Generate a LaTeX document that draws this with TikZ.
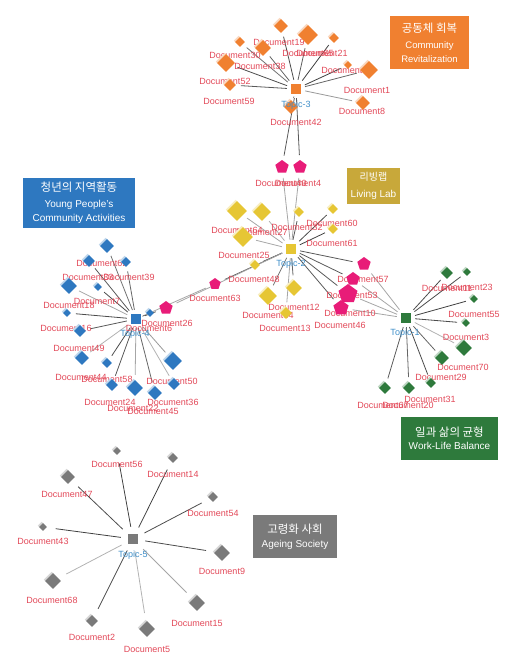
\documentclass[tikz,border=0pt]{standalone}
\usepackage{fontspec}
\setmainfont{Liberation Sans}
\newfontfamily\kr{Noto Sans CJK KR}
\usetikzlibrary{shapes.geometric}

\definecolor{docred}{RGB}{226,72,88}
\definecolor{topicblue}{RGB}{62,142,200}
\definecolor{orangeT}{RGB}{240,128,48}
\definecolor{yellowT}{RGB}{230,198,52}
\definecolor{blueT}{RGB}{46,120,192}
\definecolor{greenT}{RGB}{46,122,60}
\definecolor{grayT}{RGB}{122,122,122}
\definecolor{pinkT}{RGB}{232,28,120}
\definecolor{goldbox}{RGB}{200,168,58}

\pgfdeclarelayer{edges}
\pgfsetlayers{edges,main}

\tikzset{
  doc/.style={diamond, inner sep=0pt, fill=#1,
    preaction={fill=#1!30, transform canvas={shift={(-1.3pt,1.3pt)}}}},
  shared/.style={regular polygon, regular polygon sides=5, inner sep=0pt, fill=pinkT},
  topic/.style={rectangle, inner sep=0pt, minimum size=10pt, fill=#1},
  doclabel/.style={text=docred, font=\fontsize{9}{9}\selectfont, inner sep=0pt},
  topiclabel/.style={text=topicblue, font=\fontsize{9}{9}\selectfont, inner sep=0pt},
  link/.style={line width=0.8pt, shorten <=4pt, shorten >=5pt},
  box/.style={rectangle, text=white, align=center, inner sep=0pt}
}

\begin{document}
\begin{tikzpicture}[x=1pt,y=-1pt]
\useasboundingbox (0,0) rectangle (519,672);

% topics
\node[topic=orangeT] (t3) at (296,89) {};
\node[topic=yellowT] (t2) at (291,249) {};
\node[topic=blueT] (t4) at (136,319) {};
\node[topic=greenT] (t1) at (406,318) {};
\node[topic=grayT] (t5) at (133,539) {};

% Topic-3
\foreach \n/\x/\y/\s/\lx/\ly/\g in {
    19/281/26/7/279/42/70, 65/308/35/10/308/53/65, 21/334/38/5/322/53/75,
    30/240/42/5/235/55/55, 38/263/48/8/260/66/60, 52/226/63/9/225/81/70,
    59/230/85/6/229/101/65, 69/348/65/4/347/70/75, 1/369/70/9/367/90/60,
    8/363/103/7/362/111/40, 42/291/107/7/296/122/50} {
    \node[doclabel] (l\n) at (\lx,\ly) {Document\n};
    \node[doc=orangeT, minimum size=2*\s] (d\n) at (\x,\y) {};
    \begin{pgfonlayer}{edges}
        \draw[link, black!\g] (t3) -- (d\n);
    \end{pgfonlayer}
}

% Topic-2
\foreach \n/\x/\y/\s/\lx/\ly/\g in {
    64/237/211/10/237/230/35, 27/262/212/9/262/232/30, 32/299/212/5/297/227/65,
    60/333/209/5/332/223/70, 61/333/229/5/332/243/75, 25/243/237/10/244/255/35,
    48/255/265/5/254/279/60, 12/294/288/8/294/307/60, 34/268/296/9/268/315/55,
    13/286/313/6/285/328/35} {
    \node[doclabel] (l\n) at (\lx,\ly) {Document\n};
    \node[doc=yellowT, minimum size=2*\s] (d\n) at (\x,\y) {};
    \begin{pgfonlayer}{edges}
        \draw[link, black!\g] (t2) -- (d\n);
    \end{pgfonlayer}
}

% Topic-4
\foreach \n/\x/\y/\s/\lx/\ly/\g in {
    62/107/246/7/102/263/55, 33/89/261/6/88/277/65, 39/126/262/5/129/277/60,
    18/69/286/8/69/305/35, 7/98/287/4/97/301/70, 16/67/313/4/66/328/70,
    6/150/313/4/149/328/60, 49/80/331/6/79/348/65, 44/82/358/7/81/377/30,
    58/107/363/5/107/379/70, 50/173/361/9/172/381/40, 24/112/385/6/110/402/65,
    22/135/388/8/133/408/35, 45/155/393/7/153/411/60, 36/174/384/6/173/402/30} {
    \node[doclabel] (l\n) at (\lx,\ly) {Document\n};
    \node[doc=blueT, minimum size=2*\s] (d\n) at (\x,\y) {};
    \begin{pgfonlayer}{edges}
        \draw[link, black!\g] (t4) -- (d\n);
    \end{pgfonlayer}
}

% Topic-1
\foreach \n/\x/\y/\s/\lx/\ly/\g in {
    11/447/273/6/447/288/70, 23/467/272/4/467/287/70, 55/474/299/4/474/314/75,
    3/466/323/4/466/337/70, 70/464/348/8/463/367/30, 29/442/358/7/441/377/60,
    31/431/383/5/430/399/70, 20/409/388/6/408/405/60, 67/385/388/6/383/405/65} {
    \node[doclabel] (l\n) at (\lx,\ly) {Document\n};
    \node[doc=greenT, minimum size=2*\s] (d\n) at (\x,\y) {};
    \begin{pgfonlayer}{edges}
        \draw[link, black!\g] (t1) -- (d\n);
    \end{pgfonlayer}
}

% Topic-5
\foreach \n/\x/\y/\s/\lx/\ly/\g in {
    56/117/451/4/117/464/75, 14/173/458/5/173/474/75, 47/68/477/7/67/494/70,
    54/213/497/5/213/513/70, 43/43/527/4/43/541/75, 9/222/553/8/222/571/70,
    68/53/581/8/52/600/30, 15/197/603/8/197/623/35, 2/92/621/6/92/637/70,
    5/147/629/8/147/649/30} {
    \node[doclabel] (l\n) at (\lx,\ly) {Document\n};
    \node[doc=grayT, minimum size=2*\s] (d\n) at (\x,\y) {};
    \begin{pgfonlayer}{edges}
        \draw[link, black!\g, shorten >=9pt, shorten <=7pt] (t5) -- (d\n);
    \end{pgfonlayer}
}

% documents in two topics
\foreach \n/\x/\y/\s/\lx/\ly/\ta/\tb in {
    40/282/167/7/281/183/t3/t2, 4/300/167/7/298/183/t3/t2,
    63/215/284/6/215/298/t2/t4, 26/166/308/7/167/323/t4/t2,
    57/364/264/7/363/279/t2/t1, 53/353/279/7/352/295/t2/t1,
    10/348/294/10/350/313/t2/t1, 46/341/308/8/340/325/t2/t1} {
    \node[doclabel] (l\n) at (\lx,\ly) {Document\n};
    \node[shared, minimum size=2*\s] (d\n) at (\x,\y) {};
    \begin{pgfonlayer}{edges}
        \draw[link, black!65] (\ta) -- (d\n);
        \draw[link, black!35] (\tb) -- (d\n);
    \end{pgfonlayer}
}

\node[topiclabel] (lt3) at (296,105) {Topic-3};
\node[topiclabel] (lt2) at (291,264) {Topic-2};
\node[topiclabel] (lt4) at (135,334) {Topic-4};
\node[topiclabel] (lt1) at (405,333) {Topic-1};
\node[topiclabel] (lt5) at (133,555) {Topic-5};

% theme boxes
\node[box, fill=orangeT, minimum width=79, minimum height=53,
      font=\fontsize{9.5}{14}\selectfont] (b3) at (429.5,42.5)
    {{\kr\fontsize{11.5}{14}\selectfont 공동체 회복}\\[2pt]Community\\Revitalization};
\node[box, fill=goldbox, minimum width=53, minimum height=36,
      font=\fontsize{10}{15}\selectfont] (b2) at (373.5,186)
    {{\kr\fontsize{10}{15}\selectfont 리빙랩}\\[2pt]Living Lab};
\node[box, fill=blueT, minimum width=112, minimum height=50,
      font=\fontsize{10}{14}\selectfont] (b4) at (79,203)
    {{\kr\fontsize{11.5}{14}\selectfont 청년의 지역활동}\\[2pt]Young People's\\Community Activities};
\node[box, fill=greenT, minimum width=97, minimum height=43,
      font=\fontsize{10}{12}\selectfont] (b1) at (449.5,438.5)
    {{\kr\fontsize{11.5}{12}\selectfont 일과 삶의 균형}\\[1pt]Work-Life Balance};
\node[box, fill=grayT, minimum width=84, minimum height=43,
      font=\fontsize{10}{14}\selectfont] (b5) at (295,536.5)
    {{\kr\fontsize{11.5}{14}\selectfont 고령화 사회}\\Ageing Society};
\end{tikzpicture}
\end{document}
